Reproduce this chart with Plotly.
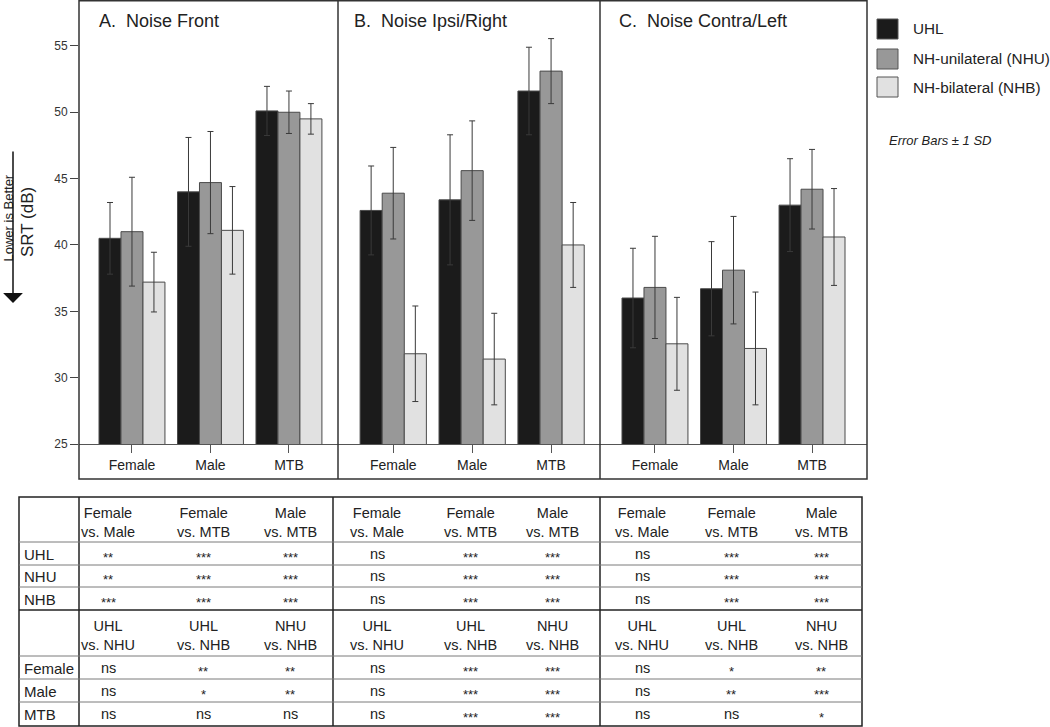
import plotly.graph_objects as go

# ---------------- data ----------------
categories = ["Female", "Male", "MTB"]
series_names = ["UHL", "NH-unilateral (NHU)", "NH-bilateral (NHB)"]
series_colors = ["#1b1b1b", "#989898", "#e1e1e1"]
panel_titles = ["A.\u00a0 Noise Front", "B.\u00a0 Noise Ipsi/Right", "C.\u00a0 Noise Contra/Left"]
y_ticks = [25, 30, 35, 40, 45, 50, 55]

front_uhl = [40.5, 44.0, 50.1]
front_nhu = [41.0, 44.7, 50.0]
front_nhb = [37.2, 41.1, 49.5]
front_uhl_sd = [2.7, 4.1, 1.85]
front_nhu_sd = [4.1, 3.85, 1.6]
front_nhb_sd = [2.25, 3.3, 1.15]

ipsi_uhl = [42.6, 43.4, 51.6]
ipsi_nhu = [43.9, 45.6, 53.1]
ipsi_nhb = [31.8, 31.4, 40.0]
ipsi_uhl_sd = [3.35, 4.9, 3.3]
ipsi_nhu_sd = [3.45, 3.75, 2.45]
ipsi_nhb_sd = [3.6, 3.45, 3.2]

contra_uhl = [36.0, 36.7, 43.0]
contra_nhu = [36.8, 38.1, 44.2]
contra_nhb = [32.55, 32.2, 40.6]
contra_uhl_sd = [3.75, 3.55, 3.5]
contra_nhu_sd = [3.85, 4.05, 3.0]
contra_nhb_sd = [3.5, 4.25, 3.65]

# significance table
cond_row_labels = ["UHL", "NHU", "NHB"]
cond_col_labels = ["Female<br>vs. Male", "Female<br>vs. MTB", "Male<br>vs. MTB"]
group_row_labels = ["Female", "Male", "MTB"]
group_col_labels = ["UHL<br>vs. NHU", "UHL<br>vs. NHB", "NHU<br>vs. NHB"]

front_cond_sig = [["**", "***", "***"], ["**", "***", "***"], ["***", "***", "***"]]
ipsi_cond_sig = [["ns", "***", "***"], ["ns", "***", "***"], ["ns", "***", "***"]]
contra_cond_sig = [["ns", "***", "***"], ["ns", "***", "***"], ["ns", "***", "***"]]

front_group_sig = [["ns", "**", "**"], ["ns", "*", "**"], ["ns", "ns", "ns"]]
ipsi_group_sig = [["ns", "***", "***"], ["ns", "***", "***"], ["ns", "***", "***"]]
contra_group_sig = [["ns", "*", "**"], ["ns", "**", "***"], ["ns", "ns", "*"]]

panels = [
    dict(means=[front_uhl, front_nhu, front_nhb], sds=[front_uhl_sd, front_nhu_sd, front_nhb_sd],
         cond=front_cond_sig, group=front_group_sig),
    dict(means=[ipsi_uhl, ipsi_nhu, ipsi_nhb], sds=[ipsi_uhl_sd, ipsi_nhu_sd, ipsi_nhb_sd],
         cond=ipsi_cond_sig, group=ipsi_group_sig),
    dict(means=[contra_uhl, contra_nhu, contra_nhb], sds=[contra_uhl_sd, contra_nhu_sd, contra_nhb_sd],
         cond=contra_cond_sig, group=contra_group_sig),
]

# ---------------- layout helpers ----------------
W, H = 1050, 727
def px(x):
    return x / W
def py(y):
    return 1 - y / H

FONT = "Liberation Sans, Arial, Helvetica, sans-serif"
INK = "#222222"

panel_edges = [79, 338, 600, 867]
panel_xranges = [[-0.675, 2.625], [-0.70, 2.62], [-0.70, 2.70]]
base_px = 444
frame_bottom = 479
y_range = [25, 25 + base_px / 13.27]

fig = go.Figure()

for p, panel in enumerate(panels):
    xa = "x" if p == 0 else f"x{p+1}"
    ya = "y" if p == 0 else f"y{p+1}"
    for s in range(3):
        fig.add_trace(go.Bar(
            x=categories, y=panel["means"][s], name=series_names[s],
            xaxis=xa, yaxis=ya, showlegend=False, hoverinfo="skip",
            marker=dict(color=series_colors[s], line=dict(color="#4a4a4a", width=1)),
            error_y=dict(type="data", array=panel["sds"][s], visible=True,
                         color="#3a3a3a", thickness=1, width=3),
        ))

axis_common = dict(showgrid=False, zeroline=False, automargin=False)
for p in range(3):
    xkey = "xaxis" if p == 0 else f"xaxis{p+1}"
    ykey = "yaxis" if p == 0 else f"yaxis{p+1}"
    yanchor = "y" if p == 0 else f"y{p+1}"
    xanchor = "x" if p == 0 else f"x{p+1}"
    fig.layout[xkey] = dict(
        domain=[px(panel_edges[p]), px(panel_edges[p + 1])], anchor=yanchor,
        type="category", range=panel_xranges[p], showline=True, linecolor="#555555",
        linewidth=1, ticks="outside", ticklen=8, tickcolor="#555555",
        tickfont=dict(size=14, color=INK, family=FONT), fixedrange=True, **axis_common)
    ydict = dict(domain=[py(base_px), 1], anchor=xanchor, range=y_range,
                 fixedrange=True, showline=False, **axis_common)
    if p == 0:
        ydict.update(tickvals=y_ticks, ticks="outside", ticklen=8, tickcolor="#444444",
                     tickfont=dict(size=12, color="#333333", family=FONT))
    else:
        ydict.update(showticklabels=False, ticks="", matches="y")
    fig.layout[ykey] = ydict

shapes = []
annotations = []

# frame around chart panels
shapes.append(dict(type="rect", xref="paper", yref="paper",
                   x0=px(panel_edges[0]), x1=px(panel_edges[-1]),
                   y0=py(frame_bottom), y1=py(0.8),
                   line=dict(color="#333333", width=1.5)))
for e in panel_edges[1:-1]:
    shapes.append(dict(type="line", xref="paper", yref="paper",
                       x0=px(e), x1=px(e), y0=py(frame_bottom), y1=py(0.8),
                       line=dict(color="#333333", width=1.5)))

# panel titles
title_x = [97, 352, 617]
for p in range(3):
    annotations.append(dict(xref="paper", yref="paper", x=px(title_x[p]), y=py(21),
                            xanchor="left", yanchor="middle", showarrow=False,
                            text=panel_titles[p], font=dict(size=18, color=INK, family=FONT)))

# y axis labels + arrow
annotations.append(dict(xref="paper", yref="paper", x=px(28), y=py(222), textangle=-90,
                        showarrow=False, text="SRT (dB)", xanchor="center", yanchor="middle",
                        font=dict(size=17, color=INK, family=FONT)))
annotations.append(dict(xref="paper", yref="paper", x=px(7.5), y=py(218), textangle=-90,
                        showarrow=False, text="Lower is Better", xanchor="center", yanchor="middle",
                        font=dict(size=13, color=INK, family=FONT)))
annotations.append(dict(xref="paper", yref="paper", x=px(13), y=py(303), ax=0, ay=-153,
                        text="", showarrow=True, arrowhead=1, arrowsize=2.2, arrowwidth=1.5,
                        arrowcolor="#111111"))

# manual legend
leg_y = [29, 59, 87]
for s in range(3):
    shapes.append(dict(type="rect", xref="paper", yref="paper",
                       x0=px(877), x1=px(898), y0=py(leg_y[s] + 10), y1=py(leg_y[s] - 10),
                       fillcolor=series_colors[s], line=dict(color="#555555", width=1)))
    annotations.append(dict(xref="paper", yref="paper", x=px(911), y=py(leg_y[s]),
                            xanchor="left", yanchor="middle", showarrow=False,
                            text=series_names[s], font=dict(size=15.3, color=INK, family=FONT)))
annotations.append(dict(xref="paper", yref="paper", x=px(887), y=py(141),
                        xanchor="left", yanchor="middle", showarrow=False,
                        text="<i>Error Bars ± 1 SD</i>", font=dict(size=13, color=INK, family=FONT)))

# ---------------- significance table ----------------
t_left, t_right, t_top, t_bottom = 19, 862, 497, 726
t_vlines = [79, 333, 600]
t_thin_h = [542, 565, 587, 656, 679, 702]
t_thick_h = [610]
shapes.append(dict(type="rect", xref="paper", yref="paper", x0=px(t_left), x1=px(t_right),
                   y0=py(t_bottom), y1=py(t_top), line=dict(color="#222222", width=1.5)))
for v in t_vlines:
    shapes.append(dict(type="line", xref="paper", yref="paper", x0=px(v), x1=px(v),
                       y0=py(t_bottom), y1=py(t_top), line=dict(color="#222222", width=1.5)))
for h in t_thin_h:
    shapes.append(dict(type="line", xref="paper", yref="paper", x0=px(t_left), x1=px(t_right),
                       y0=py(h), y1=py(h), line=dict(color="#7a7a7a", width=1)))
for h in t_thick_h:
    shapes.append(dict(type="line", xref="paper", yref="paper", x0=px(t_left), x1=px(t_right),
                       y0=py(h), y1=py(h), line=dict(color="#222222", width=1.5)))

col_centers = [[108, 203, 290], [377, 470, 552], [642, 731, 821]]
header1_y, header2_y = 522, 635
cond_rows_y = [554, 576, 599]
group_rows_y = [668, 691, 714]

def cell_text(x, y, txt, size=14, anchor="center"):
    is_star = txt.startswith("*")
    annotations.append(dict(xref="paper", yref="paper", x=px(x), y=py(y),
                            xanchor=anchor, yanchor="middle", showarrow=False,
                            text=txt, yshift=-3 if is_star else 0,
                            font=dict(size=13 if is_star else size, color=INK, family=FONT)))

for r in range(3):
    cell_text(22, cond_rows_y[r], cond_row_labels[r], size=15, anchor="left")
    cell_text(22, group_rows_y[r], group_row_labels[r], size=15, anchor="left")

for p, panel in enumerate(panels):
    for c in range(3):
        cell_text(col_centers[p][c], header1_y, cond_col_labels[c], size=14.5)
        cell_text(col_centers[p][c], header2_y, group_col_labels[c], size=14.5)
        for r in range(3):
            cell_text(col_centers[p][c], cond_rows_y[r], panel["cond"][r][c], size=14.5)
            cell_text(col_centers[p][c], group_rows_y[r], panel["group"][r][c], size=14.5)

fig.update_layout(
    width=W, height=H, margin=dict(l=0, r=0, t=0, b=0, autoexpand=False),
    paper_bgcolor="white", plot_bgcolor="white",
    barmode="group", bargap=0.16, bargroupgap=0,
    showlegend=False, shapes=shapes, annotations=annotations,
    font=dict(family=FONT, color=INK),
)

fig.write_html(
    "out.html",
    config={"displayModeBar": False},
    post_script="document.body.style.margin='0';document.body.style.padding='0';"
                "document.body.style.overflow='hidden';",
)
